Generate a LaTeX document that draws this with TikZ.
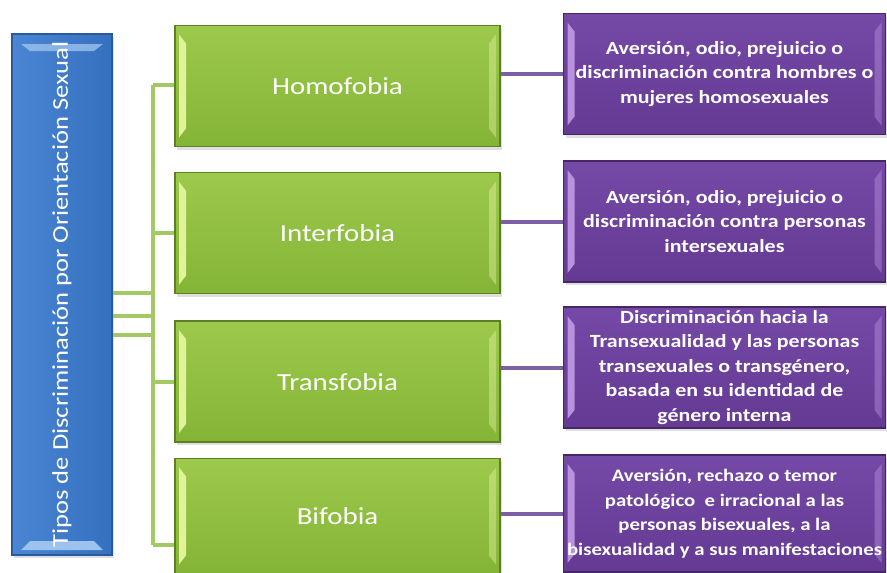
\documentclass[tikz,border=0pt]{standalone}
\usepackage{fontspec}
\setmainfont{Carlito}[FakeStretch=1.18]
\usepackage{graphicx}
\usetikzlibrary{positioning,shadows}
\definecolor{azul}{HTML}{3570BF}
\definecolor{azulclaro}{HTML}{4A86D4}
\definecolor{azulborde}{HTML}{2A5A9C}
\definecolor{azulbisel}{HTML}{9CC2F0}
\definecolor{verde}{HTML}{84B436}
\definecolor{verdeclaro}{HTML}{9DC94C}
\definecolor{verdeborde}{HTML}{5E7F25}
\definecolor{verdebisel}{HTML}{E0F29A}
\definecolor{verdelinea}{HTML}{A3C965}
\definecolor{morado}{HTML}{643A93}
\definecolor{moradoclaro}{HTML}{7549A7}
\definecolor{moradoborde}{HTML}{452766}
\definecolor{moradobisel}{HTML}{B892DC}
\definecolor{moradolinea}{HTML}{7D5FA6}
\tikzstyle{caja}=[
    draw, line width=1.3pt, align=center, text=white, inner sep=0pt,
    drop shadow={opacity=.25, shadow xshift=2pt, shadow yshift=-3pt},
]
\tikzstyle{raiz}=[caja, draw=azulborde, left color=azulclaro, right color=azul,
    minimum width=100pt, minimum height=521pt,
    font=\fontsize{22.5}{26}\selectfont, path picture={\biselv{azulbisel}}]
\tikzstyle{tipo}=[caja, draw=verdeborde, top color=verdeclaro, bottom color=verde,
    minimum width=325pt, minimum height=121pt,
    font=\fontsize{24.5}{28}\selectfont, path picture={\bisel{verdebisel}}]
\tikzstyle{descripcion}=[caja, draw=moradoborde, top color=moradoclaro, bottom color=morado,
    minimum width=322pt, minimum height=121pt,
    font=\fontsize{18.6}{24.5}\selectfont\bfseries, path picture={\bisel{moradobisel}}]
\tikzstyle{rama}=[draw=verdelinea, line width=4pt]
\tikzstyle{enlace}=[draw=moradolinea, line width=4pt]
% bevel strips at left and right
\newcommand{\bisel}[1]{%
  \fill[#1] ([shift={(4pt,-9pt)}]path picture bounding box.north west)
    -- ([shift={(11pt,-18pt)}]path picture bounding box.north west)
    -- ([shift={(11pt,18pt)}]path picture bounding box.south west)
    -- ([shift={(4pt,9pt)}]path picture bounding box.south west) -- cycle;
  \fill[#1, opacity=.45] ([shift={(-4pt,-9pt)}]path picture bounding box.north east)
    -- ([shift={(-11pt,-18pt)}]path picture bounding box.north east)
    -- ([shift={(-11pt,18pt)}]path picture bounding box.south east)
    -- ([shift={(-4pt,9pt)}]path picture bounding box.south east) -- cycle;
}
% bevel strips at top and bottom
\newcommand{\biselv}[1]{%
  \fill[#1] ([shift={(9pt,5pt)}]path picture bounding box.south west)
    -- ([shift={(18pt,14pt)}]path picture bounding box.south west)
    -- ([shift={(-18pt,14pt)}]path picture bounding box.south east)
    -- ([shift={(-9pt,5pt)}]path picture bounding box.south east) -- cycle;
  \fill[#1, opacity=.8] ([shift={(9pt,-10pt)}]path picture bounding box.north west)
    -- ([shift={(18pt,-17pt)}]path picture bounding box.north west)
    -- ([shift={(-18pt,-17pt)}]path picture bounding box.north east)
    -- ([shift={(-9pt,-10pt)}]path picture bounding box.north east) -- cycle;
}

\begin{document}
\begin{tikzpicture}[x=1pt, y=-1pt]
    \useasboundingbox[fill=white] (0,0) rectangle (887,573);

    \node[raiz] (tipos) at (62,294.5) {\rotatebox{90}{Tipos de Discriminación por Orientación Sexual}};

    \node[tipo] (homo) at (337.5,86) {Homofobia};
    \node[tipo, below=25pt of homo] (inter) {Interfobia};
    \node[tipo, below=26pt of inter] (trans) {Transfobia};
    \node[tipo, below=15pt of trans, minimum height=115pt] (bi) {Bifobia};

    \node[descripcion] (dhomo) at (724.5,74) {Aversión, odio, prejuicio o\\discriminación contra hombres o\\mujeres homosexuales};
    \node[descripcion] (dinter) at (724.5,221.5) {Aversión, odio, prejuicio o\\discriminación contra personas\\intersexuales};
    \node[descripcion] (dtrans) at (724.5,367.5) {Discriminación hacia la\\Transexualidad y las personas\\transexuales o transgénero,\\basada en su identidad de\\género interna};
    \node[descripcion, minimum height=117pt, font=\fontsize{17.6}{24.5}\selectfont\bfseries] (dbi) at (724.5,513.5) {Aversión, rechazo o temor\\patológico \ e irracional a las\\personas bisexuales, a la\\bisexualidad y a sus manifestaciones};

    \coordinate (arriba) at (153,85);
    \coordinate (abajo) at (153,545);

    \path[rama]
        (arriba) -- (abajo)
        (arriba) -- (homo.west |- arriba)
        (inter.west) -- (inter.west -| arriba)
        (trans.west) -- (trans.west -| arriba)
        (abajo) -- (bi.west |- abajo)
    ;
    \foreach \y in {293,316,335}
        \path[rama] (tipos.east |- 0,\y) -- (arriba |- 0,\y);

    \path[enlace]
        (dhomo.west) -- (dhomo.west -| homo.east)
        (dinter.west) -- (dinter.west -| inter.east)
        (dtrans.west) -- (dtrans.west -| trans.east)
        (dbi.west) -- (dbi.west -| bi.east)
    ;
\end{tikzpicture}
\end{document}
